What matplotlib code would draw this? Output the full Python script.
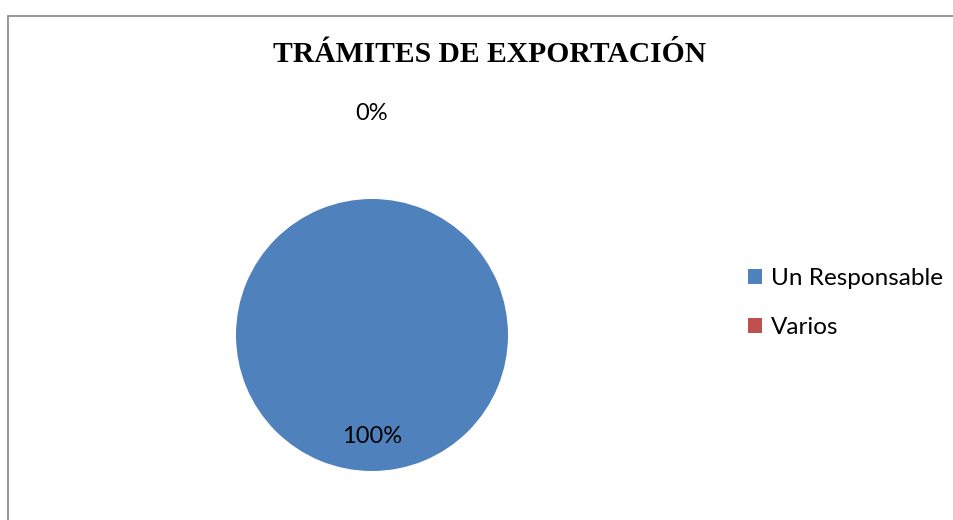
import matplotlib.pyplot as plt
from matplotlib.patches import Rectangle, Patch

# Data
categorias = ["Un Responsable", "Varios"]
valores = [100, 0]
colores = ["#4F81BD", "#C0504D"]
titulo = "TRÁMITES DE EXPORTACIÓN"

W, H = 954, 520
fig = plt.figure(figsize=(W / 100, H / 100), dpi=100)
fig.patch.set_facecolor("white")

# grey chart frame (top and left edges visible)
fig.patches.append(Rectangle((8.5 / W, -0.05), 1.2, (H - 15.5) / H + 0.05,
                             transform=fig.transFigure, fill=False,
                             edgecolor="#868686", linewidth=1.2))

# pie area: centre (372, 335) px, radius 136 px
cx, cy, r = 372, 335, 136
ax = fig.add_axes([(cx - r) / W, (H - cy - r) / H, 2 * r / W, 2 * r / H])
wedges, texts, autotexts = ax.pie(valores, colors=colores, startangle=90,
                                  counterclock=False, radius=1,
                                  autopct="%1.0f%%", pctdistance=0.75,
                                  wedgeprops=dict(linewidth=0),
                                  textprops=dict(family="Lato", fontsize=17))
# the empty slice gets its label pushed well outside the pie
autotexts[1].set_position((0, 1.63))
ax.set_xlim(-1, 1)
ax.set_ylim(-1, 1)
ax.set_aspect("equal")
ax.axis("off")

fig.text(490 / W, 1 - 62.5 / H, titulo, ha="center", va="baseline",
         family="Liberation Serif", fontweight="bold", fontsize=21.3)

handles = [Patch(facecolor=c, edgecolor="none") for c in colores]
fig.legend(handles, categorias, loc="center left",
           bbox_to_anchor=(748 / W, 1 - 303 / H), frameon=False,
           prop=dict(family="Lato", size=17.5),
           borderpad=0, borderaxespad=0,
           handlelength=0.58, handleheight=0.58, handletextpad=0.35,
           labelspacing=1.15)

fig.savefig("out.png", dpi=100)
